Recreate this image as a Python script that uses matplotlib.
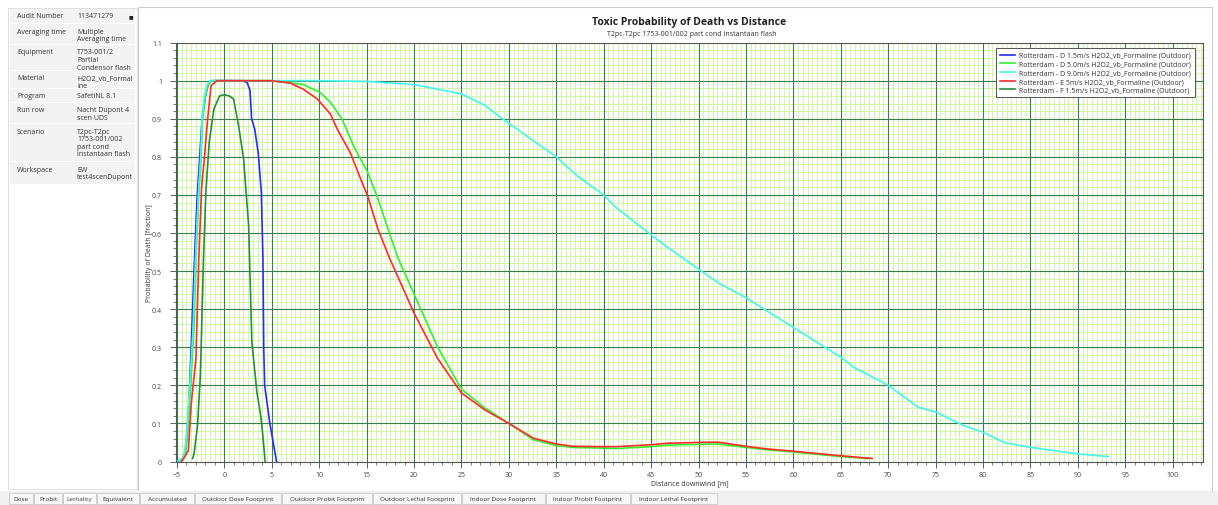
import numpy as np
import matplotlib.pyplot as plt
from matplotlib.patches import Rectangle
from matplotlib.ticker import MultipleLocator

plt.rcParams['font.family'] = ['Open Sans', 'DejaVu Sans']

# Series (distance [m], probability of death [fraction])
blue_x = [-5.0, -4.4, -4.1, -3.8, -3.5, -3.2, -2.9, -2.6, -2.35, -2.0, -1.7, -1.4, 0.0, 1.9,
          2.4, 2.7, 2.87, 3.2, 3.57, 3.9, 4.07, 4.15, 4.25, 4.78, 5.5]
blue_y = [0.0, 0.005, 0.03, 0.12, 0.3, 0.5, 0.68, 0.8, 0.9, 0.96, 0.99, 1.0, 1.0, 1.0,
          0.995, 0.975, 0.9, 0.873, 0.81, 0.707, 0.53, 0.3, 0.2, 0.103, 0.0]

lime_x = [-5.0, -4.2, -3.9, -3.5, -3.2, -3.0, -2.7, -2.45, -2.3, -2.0, -1.7, -1.4, 0.0, 5.0,
          8.3, 10.1, 11.2, 12.4, 13.6, 15.1, 16.2, 17.4, 18.3, 20.0, 22.5, 25.0, 27.5, 30.0,
          32.6, 35.0, 36.7, 40.0, 41.3, 45.0, 46.7, 50.0, 52.0, 55.0, 57.2, 60.0, 65.0, 67.8]
lime_y = [0.0, 0.01, 0.06, 0.22, 0.35, 0.53, 0.7, 0.8, 0.9, 0.96, 0.99, 1.0, 1.0, 1.0,
          0.99, 0.969, 0.943, 0.9, 0.83, 0.76, 0.69, 0.6, 0.535, 0.44, 0.3, 0.19, 0.14, 0.1,
          0.057, 0.042, 0.037, 0.035, 0.034, 0.039, 0.043, 0.045, 0.046, 0.037, 0.031, 0.025,
          0.013, 0.008]

cyan_x = [-5.0, -4.3, -4.0, -3.6, -3.3, -3.05, -2.75, -2.5, -2.35, -2.1, -1.8, -1.5, 0.0,
          10.0, 15.0, 20.0, 25.0, 27.5, 29.1, 31.8, 35.0, 37.2, 40.0, 41.3, 45.0, 46.5, 50.0,
          52.3, 55.0, 60.0, 65.0, 66.4, 70.0, 73.2, 75.0, 78.0, 80.0, 82.2, 85.0, 90.0, 93.2]
cyan_y = [0.0, 0.01, 0.06, 0.22, 0.35, 0.53, 0.7, 0.8, 0.9, 0.96, 0.99, 1.0, 1.0,
          1.0, 0.998, 0.99, 0.965, 0.935, 0.904, 0.856, 0.8, 0.75, 0.7, 0.667, 0.595, 0.567,
          0.505, 0.466, 0.43, 0.352, 0.274, 0.247, 0.2, 0.142, 0.13, 0.094, 0.077, 0.05,
          0.037, 0.02, 0.013]

red_x = [-4.5, -3.8, -3.5, -3.0, -2.7, -2.4, -2.1, -1.76, -1.4, -0.8, 0.0, 4.9, 6.9, 8.3,
         9.8, 11.2, 11.9, 13.3, 14.4, 15.1, 16.2, 17.4, 20.0, 22.5, 25.0, 27.5, 30.0, 32.6,
         35.0, 36.7, 40.0, 41.3, 45.0, 46.7, 50.0, 52.0, 55.0, 57.2, 60.0, 65.0, 68.3]
red_y = [0.0, 0.028, 0.15, 0.27, 0.53, 0.72, 0.8, 0.9, 0.987, 1.0, 1.0, 1.0, 0.994, 0.978,
         0.952, 0.912, 0.873, 0.81, 0.74, 0.698, 0.61, 0.535, 0.39, 0.27, 0.18, 0.135, 0.1,
         0.061, 0.046, 0.04, 0.039, 0.039, 0.044, 0.048, 0.05, 0.051, 0.04, 0.033, 0.027,
         0.015, 0.008]

dkgreen_x = [-3.35, -3.2, -2.83, -2.55, -2.48, -2.2, -1.95, -1.6, -1.1, -0.5, 0.0, 0.5, 0.97,
             1.5, 2.03, 2.56, 2.9, 3.43, 3.78, 3.96, 4.3]
dkgreen_y = [0.008, 0.02, 0.094, 0.217, 0.27, 0.532, 0.707, 0.838, 0.926, 0.96, 0.963, 0.96,
             0.952, 0.882, 0.794, 0.619, 0.313, 0.182, 0.129, 0.094, 0.0]

series_labels = ['Rotterdam - D 1.5m/s H2O2_vb_Formaline (Outdoor)',
                 'Rotterdam - D 5.0m/s H2O2_vb_Formaline (Outdoor)',
                 'Rotterdam - D 9.0m/s H2O2_vb_Formaline (Outdoor)',
                 'Rotterdam - E 5m/s H2O2_vb_Formaline (Outdoor)',
                 'Rotterdam - F 1.5m/s H2O2_vb_Formaline (Outdoor)']
series_colors = ['#2a2aff', '#33ee33', '#44f5f0', '#ff2a2a', '#2a8c3c']

info_rows = [('Audit Number', ['113471279']),
             ('Averaging time', ['Multiple', 'Averaging time']),
             ('Equipment', ['T753-001/2', 'Partial', 'Condensor flash']),
             ('Material', ['H2O2_vb_Formal', 'ine']),
             ('Program', ['SafetiNL 8.1']),
             ('Run row', ['Nacht Dupont 4', 'scen UDS']),
             ('Scenario', ['T2pc-T2pc', '1753-001/002', 'part cond', 'instantaan flash']),
             ('Workspace', ['EW', 'test4scenDupont'])]

tab_names = ['Dose', 'Probit', 'Lethality', 'Equivalent', 'Accumulated',
             'Outdoor Dose Footprint', 'Outdoor Probit Footprint', 'Outdoor Lethal Footprint',
             'Indoor Dose Footprint', 'Indoor Probit Footprint', 'Indoor Lethal Footprint']

W, H = 1218, 506
fig = plt.figure(figsize=(W / 100, H / 100), dpi=100)
fig.patch.set_facecolor('white')


def fx(px):
    return px / W


def fy(py):
    return 1 - py / H


# chart frame and top line
fig.add_artist(Rectangle((fx(138), fy(492)), fx(1212) - fx(138), fy(8) - fy(492),
                         transform=fig.transFigure, fill=False, edgecolor='#d0d0d0', lw=0.8))

# left info panel
fig.add_artist(Rectangle((fx(8), fy(490)), fx(137) - fx(8), fy(9) - fy(490),
                         transform=fig.transFigure, fill=False, edgecolor='#e0e0e0', lw=0.8))
row_tops = [10, 25, 46, 72, 90, 104, 125, 163, 186]
for i, (label, vals) in enumerate(info_rows):
    top, bot = row_tops[i], row_tops[i + 1]
    fig.add_artist(Rectangle((fx(10), fy(bot - 1)), fx(135) - fx(10), fy(top) - fy(bot - 1),
                             transform=fig.transFigure, facecolor='#f3f3f3', edgecolor='none'))
    fig.text(fx(17), fy(top + 7), label, fontsize=5, color='#333333', va='center')
    for j, v in enumerate(vals):
        fig.text(fx(77), fy(top + 7 + j * 7.6), v, fontsize=5, color='#333333', va='center')
fig.text(fx(131), fy(17), '■', fontsize=3.5, color='#222222', va='center', ha='center',
         family='DejaVu Sans')

# bottom tab bar
fig.add_artist(Rectangle((0, 0), 1, fy(492), transform=fig.transFigure,
                         facecolor='#f0f0f0', edgecolor='none'))
tab_edges = [9, 34, 63, 97, 140, 195, 282, 373, 462, 546, 631, 718]
for i, name in enumerate(tab_names):
    x0, x1 = tab_edges[i], tab_edges[i + 1] - 1
    face = 'white' if name == 'Lethality' else '#f7f7f7'
    fig.add_artist(Rectangle((fx(x0), fy(505)), fx(x1) - fx(x0), fy(494) - fy(505),
                             transform=fig.transFigure, facecolor=face, edgecolor='#c8c8c8',
                             lw=0.6))
    fig.text(fx((x0 + x1) / 2), fy(499.5), name, fontsize=4.6, color='#333333',
             ha='center', va='center')

# main plot
ax = fig.add_axes([fx(176), fy(462.5), fx(1203) - fx(176), fy(43.6) - fy(462.5)])
ax.set_xlim(-5.1, 103.2)
ax.set_ylim(0, 1.1)

# grid: light minor lines first, dark major lines on top
ax.vlines(np.arange(-5, 103.1, 0.5), 0, 1.1, color='#d2f5a5', lw=0.7, zorder=0.5)
ax.hlines(np.arange(0, 1.1, 0.02), -5.1, 103.2, color='#d2f5a5', lw=0.7, zorder=0.5)
ax.vlines(np.arange(-5, 103, 5), 0, 1.1, color='#3b7d4e', lw=0.8, zorder=0.8)
ax.hlines(np.arange(0.1, 1.1, 0.1), -5.1, 103.2, color='#3b7d4e', lw=0.8, zorder=0.8)

ax.xaxis.set_major_locator(MultipleLocator(5))
ax.xaxis.set_minor_locator(MultipleLocator(1))
ax.yaxis.set_major_locator(MultipleLocator(0.1))
ax.yaxis.set_minor_locator(MultipleLocator(0.02))

ax.set_yticks(np.round(np.arange(0, 1.11, 0.1), 1))
ax.set_yticklabels(['0', '0.1', '0.2', '0.3', '0.4', '0.5', '0.6', '0.7', '0.8', '0.9', '1', '1.1'])
ax.set_xticks(np.arange(-5, 101, 5))
ax.set_xlim(-5.1, 103.2)
ax.tick_params(which='both', labelsize=5, colors='#444444', direction='out')
ax.tick_params(which='major', length=4, width=0.6)
ax.tick_params(which='minor', length=2, width=0.5)
ax.tick_params(axis='y', pad=6)
ax.tick_params(axis='x', pad=3)
for s in ax.spines.values():
    s.set_color('#555555')
    s.set_linewidth(0.8)

curves = [(blue_x, blue_y), (lime_x, lime_y), (cyan_x, cyan_y), (red_x, red_y),
          (dkgreen_x, dkgreen_y)]
for (xs, ys), lab, col in zip(curves, series_labels, series_colors):
    ax.plot(xs, ys, color=col, lw=1.2, label=lab, zorder=2)

leg = ax.legend(loc='upper right', bbox_to_anchor=((1198 - 176) / 1027, (462.5 - 46) / 418.9),
                fontsize=5, frameon=True, fancybox=False, edgecolor='#555555',
                framealpha=1, handlelength=2.2, borderpad=0.5, labelspacing=0.25,
                handletextpad=0.6)
leg.get_frame().set_linewidth(0.7)
for t in leg.get_texts():
    t.set_color('#333333')

ax.set_ylabel('Probability of Death [fraction]', fontsize=5, color='#333333')
ax.yaxis.set_label_coords(-0.022, 0.5)
ax.set_xlabel('Distance downwind [m]', fontsize=5, color='#333333', labelpad=1)

fig.text(fx(689), fy(23), 'Toxic Probability of Death vs Distance', fontsize=7.5,
         fontweight='bold', ha='center', va='center', color='#222222')
fig.text(fx(692), fy(34), 'T2pc-T2pc 1753-001/002 part cond instantaan flash', fontsize=5,
         ha='center', va='center', color='#333333')

fig.savefig('out.png', dpi=100)
